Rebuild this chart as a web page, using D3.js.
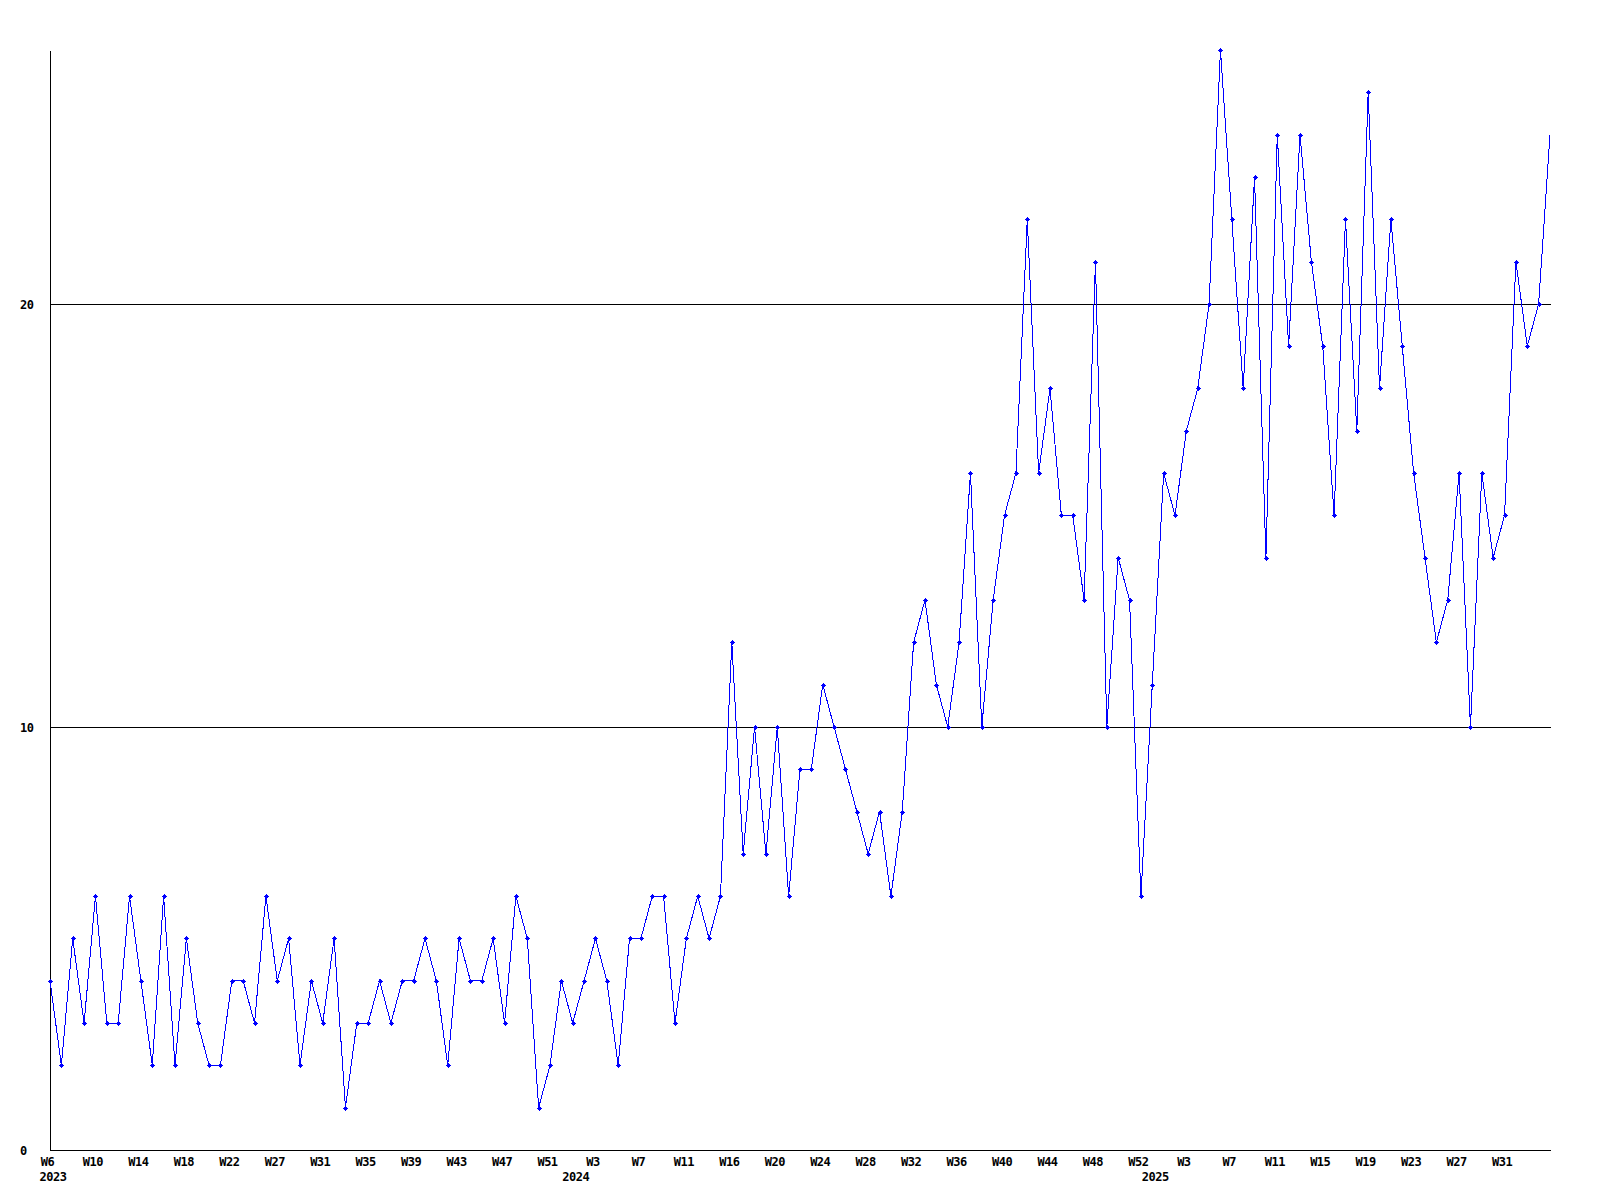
<!DOCTYPE html>
<html>
<head>
<meta charset="utf-8">
<script src="https://cdn.jsdelivr.net/npm/d3@7"></script>
<style>
  html, body { margin: 0; padding: 0; background: #ffffff; }
  svg text { font-family: "DejaVu Sans Mono", "Liberation Mono", monospace; font-weight: bold; font-size: 12px; letter-spacing: -0.5px; fill: #000; }
</style>
</head>
<body>
<svg id="chart" width="1600" height="1200"></svg>
<script>
// ---- data ----
const years = [2023, 2024, 2025];
const weeks2023 = [6,7,8,9,10,11,12,13,14,15,16,17,18,19,20,21,22,23,24,26,27,28,29,30,31,32,33,34,35,36,37,38,39,40,41,42,43,44,45,46,47,48,49,50,51,52];
const weeks2024 = [1,2,3,4,5,6,7,8,9,10,11,12,14,15,16,17,18,19,20,21,22,23,24,25,26,27,28,29,30,31,32,33,34,35,36,37,38,39,40,41,42,43,44,45,46,47,48,49,50,51,52];
const weeks2025 = [0,1,2,3,4,5,6,7,8,9,10,11,12,13,14,15,16,17,18,19,20,21,22,23,24,25,26,27,28,29,30,31,32,33,34,35];
const values = [
  4,2,5,3,6,3,3,6,4,2,6,2,5,3,2,2,4,4,3,6,4,5,2,4,3,5,1,3,3,4,3,4,4,5,
  4,2,5,4,4,5,3,6,5,1,2,4,3,4,5,4,2,5,5,6,6,3,5,6,5,6,
  12,7,10,7,10,6,9,9,11,10,9,8,7,8,6,8,12,13,11,10,12,16,10,13,
  15,16,22,16,18,15,15,13,21,10,14,13,6,11,16,15,17,18,20,26,
  22,18,23,14,24,19,24,21,19,15,22,17,25,18,22,19,16,14,12,13,
  16,10,16,14,15,21,19,20,24
];
const yTicks = [0, 10, 20];
const gridTicks = [10, 20];
const tickEvery = 4;

(function draw() {
  const weeksByYear = [weeks2023, weeks2024, weeks2025];
  const categories = [];
  weeksByYear.forEach((ws, k) => ws.forEach(w => categories.push({ year: years[k], week: w })));

  const svg = d3.select("#chart");
  const mL = 50, mR = 1550, mT = 50, mB = 1150;

  const x = d3.scaleLinear().domain([0, categories.length - 1]).range([mL, mR]);
  const y = d3.scaleLinear().domain([0, d3.max(values)]).range([mB, mT]);

  svg.append("defs").append("clipPath").attr("id", "markerClip")
    .append("rect").attr("x", 0).attr("y", 0).attr("width", mR - 3).attr("height", 1200);

  // grid lines
  svg.append("g")
    .attr("transform", `translate(${mL},0)`)
    .call(d3.axisLeft(y).tickValues(gridTicks).tickSize(-(mR - mL + 1)).tickFormat(""))
    .call(g => g.select(".domain").remove())
    .call(g => g.selectAll(".tick line").attr("stroke", "#000").attr("shape-rendering", "crispEdges"))
    .attr("font-family", null).attr("font-size", null);

  // y axis
  svg.append("g")
    .attr("transform", `translate(${mL},0)`)
    .call(d3.axisLeft(y).tickValues(yTicks).tickSize(0).tickFormat(d3.format("d")))
    .call(g => g.select(".domain").attr("stroke", "#000").attr("shape-rendering", "crispEdges"))
    .call(g => g.selectAll(".tick text").attr("x", -30).attr("dy", "0.35em").attr("text-anchor", "start"))
    .attr("font-family", null).attr("font-size", null);

  // x axis (labels every 4th week, only where they fit)
  const tickIdx = d3.range(0, categories.length - 1, tickEvery);
  svg.append("g")
    .attr("transform", `translate(0,${mB})`)
    .call(d3.axisBottom(x).tickValues(tickIdx).tickSize(0).tickFormat(i => "W" + categories[i].week))
    .call(g => g.select(".domain").attr("stroke", "#000").attr("shape-rendering", "crispEdges")
        .attr("d", `M${mL},0.5H${mR + 1}`))
    .call(g => g.selectAll(".tick text").attr("y", 16).attr("dy", 0).attr("dx", -3))
    .attr("font-family", null).attr("font-size", null);

  // year labels at first week of each year
  const yearStarts = years.map(yr => categories.findIndex(c => c.year === yr));
  svg.append("g").selectAll("text").data(yearStarts).join("text")
    .attr("x", i => x(i) + 3)
    .attr("y", mB + 31)
    .attr("text-anchor", "middle")
    .text(i => categories[i].year);

  // line
  svg.append("path")
    .datum(values)
    .attr("fill", "none")
    .attr("stroke", "#0000ff")
    .attr("stroke-width", 1)
    .attr("shape-rendering", "crispEdges")
    .attr("d", d3.line().x((d, i) => x(i)).y(d => y(d)));

  // markers: small filled plus signs
  svg.append("g").attr("clip-path", "url(#markerClip)")
    .selectAll("path").data(values).join("path")
    .attr("transform", (d, i) => `translate(${Math.round(x(i))},${Math.round(y(d))})`)
    .attr("d", "M-2.5,-0.5h5v1h-5z M-0.5,-2.5h1v5h-1z M-1.5,-1.5h3v3h-3z")
    .attr("fill", "#0000ff")
    .attr("shape-rendering", "crispEdges");
})();
</script>
</body>
</html>
